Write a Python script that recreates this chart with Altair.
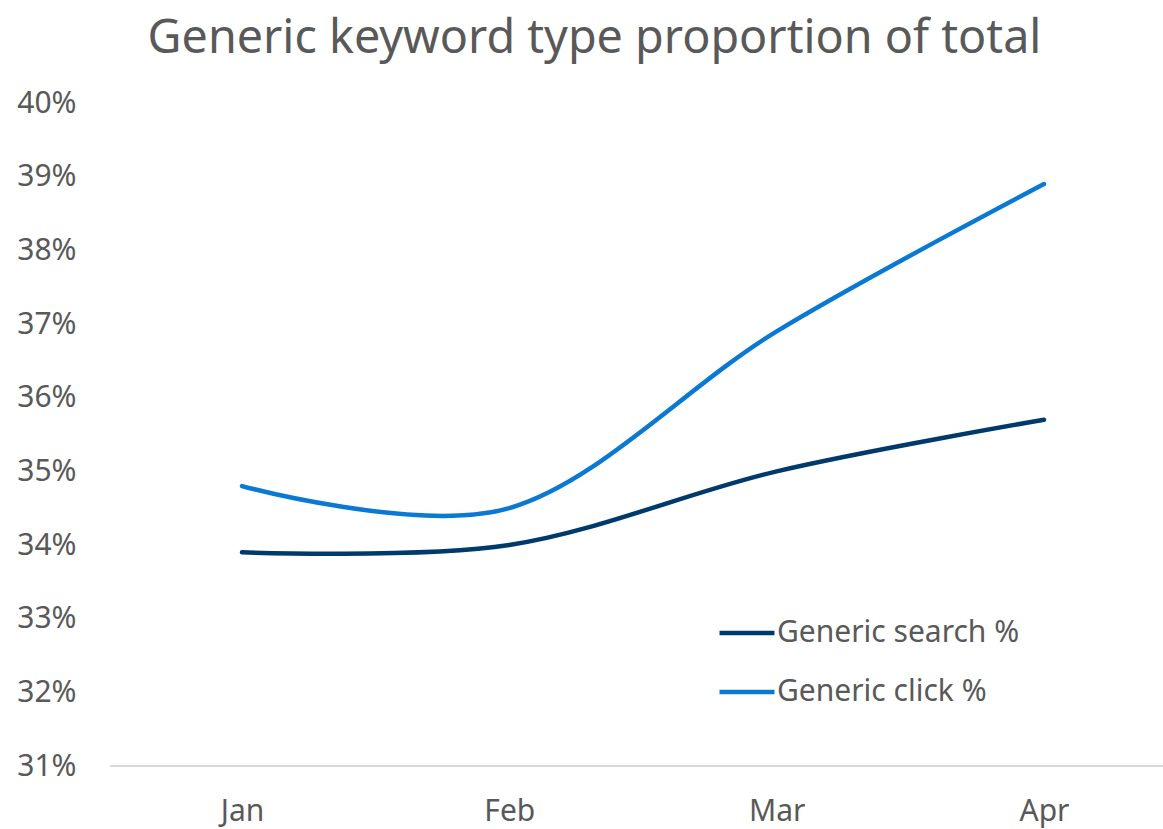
import altair as alt
import pandas as pd

months = ["Jan", "Feb", "Mar", "Apr"]
search_pct = [0.339, 0.340, 0.350, 0.357]
click_pct = [0.348, 0.345, 0.369, 0.389]
series_names = ["Generic search %", "Generic click %"]
series_colors = ["#003A6C", "#0A79D4"]

rows = []
for name, vals in zip(series_names, [search_pct, click_pct]):
    for m, v in zip(months, vals):
        rows.append({"Month": m, "Share": v, "Series": name})
df = pd.DataFrame(rows)

FONT = "Segoe UI, Noto Sans, Open Sans, sans-serif"
GREY = "#595959"
W, H = 1053, 663

lines = (
    alt.Chart(df)
    .mark_line(interpolate="cardinal", strokeWidth=4.5, strokeCap="round")
    .encode(
        x=alt.X(
            "Month:N",
            sort=months,
            scale=alt.Scale(type="point", range=[132, 934], padding=0),
            axis=alt.Axis(
                title=None,
                labelAngle=0,
                ticks=False,
                grid=False,
                domain=False,
                labelPadding=30,
                labelFontSize=30,
                labelColor=GREY,
                labelFont=FONT,
            ),
        ),
        y=alt.Y(
            "Share:Q",
            scale=alt.Scale(domain=[0.31, 0.40], nice=False, zero=False),
            axis=alt.Axis(
                title=None,
                format=".0%",
                values=[0.31, 0.32, 0.33, 0.34, 0.35, 0.36, 0.37, 0.38, 0.39, 0.40],
                ticks=False,
                grid=False,
                domain=False,
                labelPadding=34,
                labelFontSize=30,
                labelColor=GREY,
                labelFont=FONT,
            ),
        ),
        color=alt.Color(
            "Series:N",
            sort=series_names,
            scale=alt.Scale(domain=series_names, range=series_colors),
            legend=alt.Legend(
                title=None,
                orient="none",
                legendX=607,
                legendY=500,
                symbolType="stroke",
                symbolSize=3025,
                symbolStrokeWidth=4.5,
                labelFontSize=30,
                labelColor=GREY,
                labelFont=FONT,
                labelOffset=0,
                labelLimit=500,
                rowPadding=14,
            ),
        ),
    )
)

# category axis baseline spanning the full plot width
baseline = (
    alt.Chart(df)
    .mark_rule(color="#d9d9d9", strokeWidth=1.5)
    .encode(x=alt.value(0), x2=alt.value(W), y=alt.value(H))
)

chart = (
    alt.layer(baseline, lines)
    .properties(
        width=W,
        height=H,
        padding={"left": 110, "top": 103, "right": 0, "bottom": 63},
        autosize=alt.AutoSizeParams(type="none"),
        title=alt.Title(
            "Generic keyword type proportion of total",
            fontSize=46.7,
            fontWeight="normal",
            color=GREY,
            font=FONT,
            anchor="middle",
            dx=-42,
            offset=25,
        ),
    )
    .configure_view(stroke=None)
)

chart.save("out.html", embed_options={"renderer": "svg", "actions": False})
